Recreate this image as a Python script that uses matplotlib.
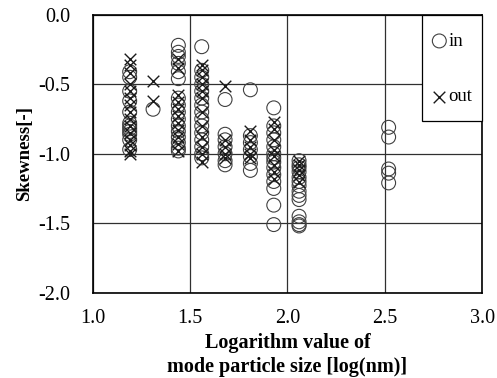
import matplotlib
matplotlib.use("Agg")
import matplotlib.pyplot as plt
from matplotlib.patches import Rectangle
from matplotlib.transforms import offset_copy

plt.rcParams['font.family'] = ['Liberation Serif', 'DejaVu Serif']

# Skewness of the size distribution vs. log10 of the mode particle size
in_x = ([1.19] * 12 + [1.31] * 1 + [1.44] * 16 + [1.56] * 15 + [1.68] * 7 +
        [1.81] * 7 + [1.93] * 14 + [2.06] * 14 + [2.52] * 5)
in_y = ([-0.41, -0.45, -0.55, -0.62, -0.7, -0.78, -0.8, -0.82, -0.84, -0.86, -0.9, -0.97] +
        [-0.68] +
        [-0.22, -0.27, -0.30, -0.35, -0.41, -0.46, -0.60, -0.65, -0.70, -0.75, -0.80,
         -0.84, -0.88, -0.92, -0.96, -0.98] +
        [-0.23, -0.40, -0.45, -0.50, -0.55, -0.60, -0.65, -0.70, -0.75, -0.80, -0.85,
         -0.90, -0.95, -1.00, -1.03] +
        [-0.61, -0.86, -0.90, -0.95, -1.00, -1.05, -1.08] +
        [-0.54, -0.87, -0.92, -0.97, -1.02, -1.07, -1.12] +
        [-0.67, -0.80, -0.85, -0.90, -0.95, -1.00, -1.03, -1.06, -1.10, -1.15, -1.20,
         -1.25, -1.37, -1.51] +
        [-1.05, -1.08, -1.10, -1.13, -1.17, -1.20, -1.23, -1.27, -1.30, -1.33, -1.45,
         -1.49, -1.51, -1.52] +
        [-0.81, -0.88, -1.11, -1.14, -1.21])

out_x = ([1.19] * 15 + [1.31] * 2 + [1.44] * 11 + [1.56] * 12 + [1.68] * 5 +
         [1.81] * 5 + [1.93] * 8 + [2.06] * 5)
out_y = ([-0.32, -0.36, -0.42, -0.50, -0.55, -0.60, -0.65, -0.70, -0.75, -0.80,
          -0.85, -0.90, -0.94, -0.98, -1.00] +
         [-0.48, -0.62] +
         [-0.32, -0.38, -0.58, -0.63, -0.68, -0.73, -0.78, -0.83, -0.88, -0.93, -0.98] +
         [-0.36, -0.40, -0.45, -0.50, -0.55, -0.60, -0.70, -0.80, -0.88, -0.95, -1.00, -1.06] +
         [-0.51, -0.90, -0.95, -1.00, -1.03] +
         [-0.84, -0.90, -0.95, -1.00, -1.03] +
         [-0.77, -0.82, -0.90, -0.97, -1.02, -1.08, -1.13, -1.18] +
         [-1.05, -1.08, -1.12, -1.15, -1.20])

x_ticks = [1.0, 1.5, 2.0, 2.5, 3.0]
y_ticks = [0.0, -0.5, -1.0, -1.5, -2.0]

fig = plt.figure(figsize=(4.97, 3.78), dpi=100)
ax = fig.add_axes([0.1865, 0.2257, 0.7835, 0.7353])

ax.scatter(in_x, in_y, s=100, facecolors='none', edgecolors='#404040',
           linewidths=0.8, label='in', zorder=3)
ax.scatter(out_x, out_y, s=70, marker='x', color='#1a1a1a',
           linewidths=1.0, label='out', zorder=3)

ax.set_xlim(1.0, 3.0)
ax.set_ylim(-2.0, 0.0)
ax.set_xticks(x_ticks)
ax.set_yticks(y_ticks)
ax.set_xticklabels([f"{v:.1f}" for v in x_ticks])
ax.set_yticklabels([f"{v:.1f}" for v in y_ticks])
ax.tick_params(axis='x', length=0, labelsize=14.5, pad=12)
ax.tick_params(axis='y', length=0, labelsize=14.5, pad=16)
ax.grid(True, color='#303030', linewidth=0.9)
ax.set_axisbelow(True)
for sp in ax.spines.values():
    sp.set_linewidth(1.2)
    sp.set_color('black')

ax.set_xlabel("Logarithm value of\nmode particle size [log(nm)]",
              fontsize=14.5, fontweight='bold', labelpad=3, linespacing=1.3)
ax.set_ylabel("Skewness[-]", fontsize=13.5, fontweight='bold', labelpad=4)

# Legend entries without frame, inset from the corner; the box is drawn around them
pad_x, pad_y = 10, 18
anchor = offset_copy(ax.transAxes, fig=fig, x=-pad_x, y=-pad_y, units='dots')
leg = ax.legend(loc='upper right', bbox_to_anchor=(1, 1), bbox_transform=anchor,
                borderaxespad=0, borderpad=0, frameon=False, fontsize=13.5,
                labelspacing=2.05, handletextpad=0.1, handlelength=0.75)

fig.canvas.draw()
bb = leg.get_window_extent()
inv = ax.transAxes.inverted()
(x0, y0), (x1, y1) = inv.transform([(bb.x0 - pad_x, bb.y0 - pad_y + 2),
                                    (bb.x1 + pad_x, bb.y1 + pad_y)])
box = Rectangle((x0, y0), x1 - x0, y1 - y0, transform=ax.transAxes,
                facecolor='white', edgecolor='black', linewidth=0.9,
                zorder=4, clip_on=False)
ax.add_patch(box)

fig.savefig("out.png", dpi=100)
